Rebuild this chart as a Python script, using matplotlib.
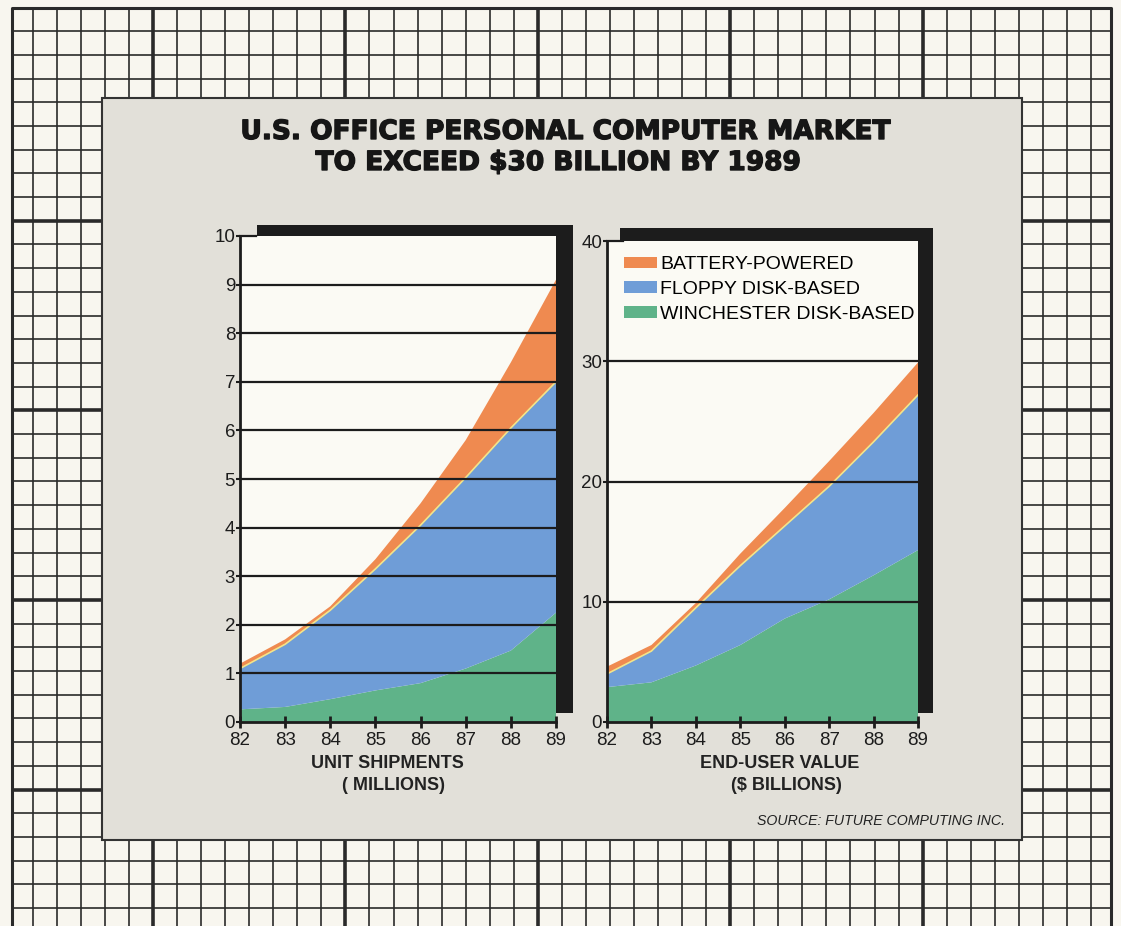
import numpy as np
import matplotlib.pyplot as plt
from matplotlib.patches import Rectangle, Patch
import matplotlib.patheffects as pe

plt.rcParams['font.family'] = ['Liberation Sans', 'DejaVu Sans']

years = [82, 83, 84, 85, 86, 87, 88, 89]
year_labels = ['82', '83', '84', '85', '86', '87', '88', '89']

# unit shipments (millions), thickness of each layer
winchester_units = [0.26, 0.31, 0.47, 0.65, 0.80, 1.10, 1.47, 2.25]
floppy_units = [0.84, 1.29, 1.83, 2.50, 3.25, 3.93, 4.58, 4.75]
battery_units = [0.10, 0.10, 0.08, 0.20, 0.45, 0.77, 1.35, 2.10]

# end-user value ($ billions), thickness of each layer
winchester_value = [2.9, 3.3, 4.7, 6.4, 8.6, 10.2, 12.2, 14.3]
floppy_value = [1.1, 2.6, 4.8, 6.6, 7.7, 9.4, 11.1, 12.9]
battery_value = [0.6, 0.5, 0.4, 1.0, 1.5, 2.1, 2.4, 2.7]

series_names = ['WINCHESTER DISK-BASED', 'FLOPPY DISK-BASED', 'BATTERY-POWERED']
colors = ['#5fb389', '#6f9dd7', '#ef8a50']
ink = '#1c1c1c'

W, H = 1121, 926
fig = plt.figure(figsize=(W / 100, H / 100), dpi=100)
fig.patch.set_facecolor('#f8f6ef')

# background layer in pixel units: graph paper, grey panel, shadows
bg = fig.add_axes([0, 0, 1, 1], zorder=-10)
bg.set_xlim(0, W)
bg.set_ylim(H, 0)
bg.axis('off')

for k in range(-5, 40):
    x = 153 + 24.05 * k
    if 12 < x < 1111:
        bg.vlines(x, 8, H, color='#2a2a2a', lw=2.6 if k % 8 == 0 else 1.2, zorder=1)
for k in range(-8, 30):
    y = 220.7 + 23.7 * k
    if 8 < y < H:
        bg.hlines(y, 12, 1111, color='#2a2a2a',
                  lw=2.6 if (k % 8 == 0 and k >= 0) else 1.2, zorder=1)
bg.plot([12, 12, 1111, 1111], [H, 8, 8, H], color='#2a2a2a', lw=2.2, zorder=1)

bg.add_patch(Rectangle((102, 98), 920, 742, fc='#e2e0d9', ec='#333333', lw=1.5, zorder=5))
bg.add_patch(Rectangle((257, 225), 316, 488, fc=ink, lw=0, zorder=6))
bg.add_patch(Rectangle((620, 228), 313, 485, fc=ink, lw=0, zorder=6))

title_fx = [pe.withStroke(linewidth=1.0, foreground='#161616')]
bg.text(565, 132, 'U.S. OFFICE PERSONAL COMPUTER MARKET', ha='center', va='center',
        fontsize=19, fontweight='bold', family='DejaVu Sans', color='#161616',
        path_effects=title_fx, zorder=10)
bg.text(558, 163, 'TO EXCEED $30 BILLION BY 1989', ha='center', va='center',
        fontsize=19, fontweight='bold', family='DejaVu Sans', color='#161616',
        path_effects=title_fx, zorder=10)

label_kw = dict(ha='center', va='center', fontsize=13, fontweight='bold',
                color='#222222', zorder=10)
bg.text(387, 763, 'UNIT SHIPMENTS', **label_kw)
bg.text(394, 785, '( MILLIONS)', **label_kw)
bg.text(780, 763, 'END-USER VALUE', **label_kw)
bg.text(786, 785, '($ BILLIONS)', **label_kw)
bg.text(1005, 821, 'SOURCE: FUTURE COMPUTING INC.', ha='right', va='center',
        fontsize=10.2, style='italic', color='#222222', zorder=10)


def add_chart(left, top, right, bottom):
    return fig.add_axes([left / W, 1 - bottom / H, (right - left) / W, (bottom - top) / H])


def draw(ax, layers, ymax, step):
    ax.set_facecolor('#fbfaf4')
    ax.stackplot(years, *layers, colors=colors, lw=0, zorder=1)
    top_floppy = np.array(layers[0]) + np.array(layers[1])
    ax.plot(years, top_floppy, color='#f2e48a', lw=1.2, zorder=2)
    for v in range(step, ymax, step):
        ax.axhline(v, color=ink, lw=1.6, zorder=3)
    # short stub of the top gridline before the shadow begins
    ax.plot([0, 0.05], [1, 1], transform=ax.transAxes, color=ink, lw=1.6, zorder=3,
            clip_on=False)
    ax.set_xlim(82, 89)
    ax.set_ylim(0, ymax)
    ax.set_xticks(years)
    ax.set_xticklabels(year_labels)
    ax.set_yticks(range(0, ymax + 1, step))
    for s in ['top', 'right']:
        ax.spines[s].set_visible(False)
    for s in ['left', 'bottom']:
        ax.spines[s].set_color(ink)
        ax.spines[s].set_linewidth(2)
        ax.spines[s].set_zorder(4)
    ax.tick_params(axis='x', direction='inout', length=9, width=2, pad=3,
                   labelsize=13.5, colors=ink)
    ax.tick_params(axis='y', direction='out', length=3, width=1.5, pad=0.5,
                   labelsize=13.5, colors=ink)


axL = add_chart(240, 236, 556, 722)
draw(axL, [winchester_units, floppy_units, battery_units], 10, 1)

axR = add_chart(607, 241, 918, 722)
draw(axR, [winchester_value, floppy_value, battery_value], 40, 10)

handles = [Patch(fc=colors[2], ec='none'), Patch(fc=colors[1], ec='none'),
           Patch(fc=colors[0], ec='none')]
axR.legend(handles, [series_names[2], series_names[1], series_names[0]],
           loc='upper left', bbox_to_anchor=(0.055, 0.968), frameon=False,
           fontsize=14, handlelength=1.7, handleheight=0.55, handletextpad=0.15,
           labelspacing=0.4, borderaxespad=0, borderpad=0)

fig.savefig('out.png', dpi=100, facecolor=fig.get_facecolor())
